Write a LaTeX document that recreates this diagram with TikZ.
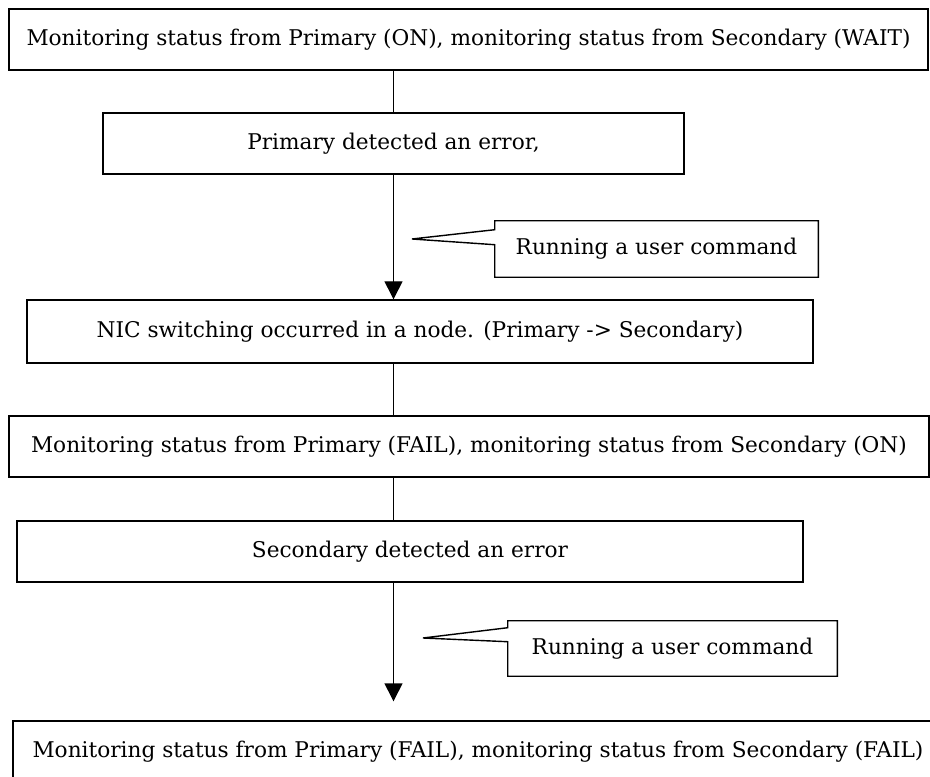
\documentclass[tikz,border=0pt]{standalone}
\usepackage{fontspec}
\setmainfont{DejaVu Serif}
\usetikzlibrary{arrows.meta}
\tikzset{
  stepbox/.style={draw, line width=1pt, inner sep=0pt, minimum height=1.525cm, font=\fontsize{15.4}{18}\selectfont},
  note/.style={inner sep=0pt, minimum height=1.4cm, font=\fontsize{15.4}{18}\selectfont},
  bubble/.style={line width=1pt, line join=miter},
  flow/.style={line width=1pt},
  flowarrow/.style={-{Triangle[length=4.5mm, width=4.5mm]}, line width=1pt},
}

\begin{document}
\begin{tikzpicture}[scale=1.0]
  \useasboundingbox (0,0) rectangle (23.25,19.4);
  \clip (0,0) rectangle (23.25,19.4);
  \node[stepbox, minimum width=22.975cm] (monA) at (11.7125,18.4125)
    {Monitoring status from Primary (ON), monitoring status from Secondary (WAIT)};
  \node[stepbox, minimum width=14.525cm] (errP) at (9.8375,15.8125)
    {Primary detected an error,};
  \node[stepbox, minimum width=19.65cm, minimum height=1.575cm] (nicSw) at (10.5,11.1125)
    {NIC switching occurred in a node. (Primary -> Secondary)};
  \node[stepbox, minimum width=23cm] (monB) at (11.725,8.2375)
    {Monitoring status from Primary (FAIL), monitoring status from Secondary (ON)};
  \node[stepbox, minimum width=19.65cm] (errS) at (10.25,5.6125)
    {Secondary detected an error};
  \node[stepbox, minimum width=23.25cm] (monC) at (11.95,0.6125)
    {Monitoring status from Primary (FAIL), monitoring status from Secondary (FAIL)};
  % callouts
  \node[note, minimum width=8.075cm] (cmdA) at (16.4125,13.175) {Running a user command};
  \node[note, minimum width=8.225cm, minimum height=1.375cm] (cmdB) at (16.8125,3.1875) {Running a user command};
  \coordinate (tipA) at (10.3,13.425);
  \coordinate (tipB) at (10.575,3.45);
  \draw[bubble] (cmdA.north east) -- (cmdA.north west) -- ([yshift=-0.225cm]cmdA.north west)
    -- (tipA) -- ([yshift=-0.6cm]cmdA.north west) -- (cmdA.south west) -- (cmdA.south east) -- cycle;
  \draw[bubble] (cmdB.north east) -- (cmdB.north west) -- ([yshift=-0.175cm]cmdB.north west)
    -- (tipB) -- ([yshift=-0.525cm]cmdB.north west) -- (cmdB.south west) -- (cmdB.south east) -- cycle;
  % flow
  \draw[flow] (monA.south -| errP) -- (errP.north);
  \draw[flowarrow] (errP.south) -- (errP.south |- nicSw.north);
  \draw[flow] (nicSw.south -| errP) -- (monB.north -| errP);
  \draw[flow] (monB.south -| errP) -- (errS.north -| errP);
  \draw[flowarrow] (errS.south -| errP) -- ([yshift=0.475cm]monC.north -| errP);
\end{tikzpicture}
\end{document}
